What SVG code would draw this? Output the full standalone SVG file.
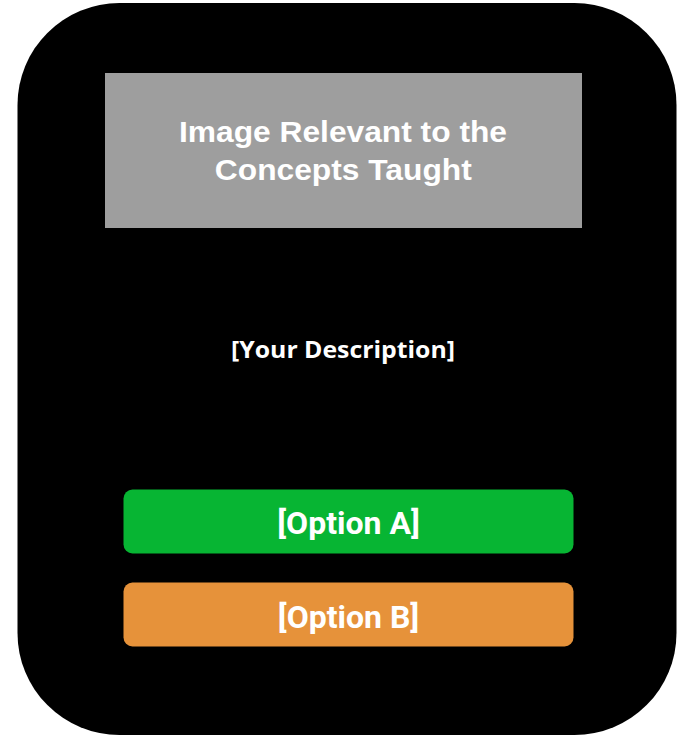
<svg xmlns="http://www.w3.org/2000/svg" width="686" height="737" viewBox="0 0 686 737">
<style>
.t{fill:#ffffff;text-anchor:middle}
.h{font-family:"Liberation Sans",Arial,sans-serif;font-weight:bold;font-size:29px}
.d{font-family:"Open Sans",sans-serif;font-weight:bold;font-size:23px}
.o{font-family:Roboto,sans-serif;font-weight:bold;font-size:32px}
</style>
<rect width="686" height="737" fill="#ffffff"/>
<g id="frame"><rect x="17.5" y="3" width="659" height="732" rx="102" ry="102" fill="#000000"/></g>
<g id="image"><rect x="105" y="73" width="477" height="155" fill="#9e9e9e"/>
<text class="t h" x="343" y="141.5" textLength="328" lengthAdjust="spacingAndGlyphs">Image Relevant to the</text>
<text class="t h" x="343.3" y="179.5" textLength="257" lengthAdjust="spacingAndGlyphs">Concepts Taught</text></g>
<g id="description"><text class="t d" x="343" y="358" textLength="224" lengthAdjust="spacingAndGlyphs">[Your Description]</text></g>
<g id="optionA"><rect x="123.5" y="489.5" width="450" height="64" rx="9" fill="#07b533"/>
<text class="t o" x="348.5" y="534">[Option A]</text></g>
<g id="optionB"><rect x="123.5" y="582.5" width="450" height="64" rx="9" fill="#e6923a"/>
<text class="t o" x="348.5" y="627.5">[Option B]</text></g>
<g id="connectors"/>
</svg>
